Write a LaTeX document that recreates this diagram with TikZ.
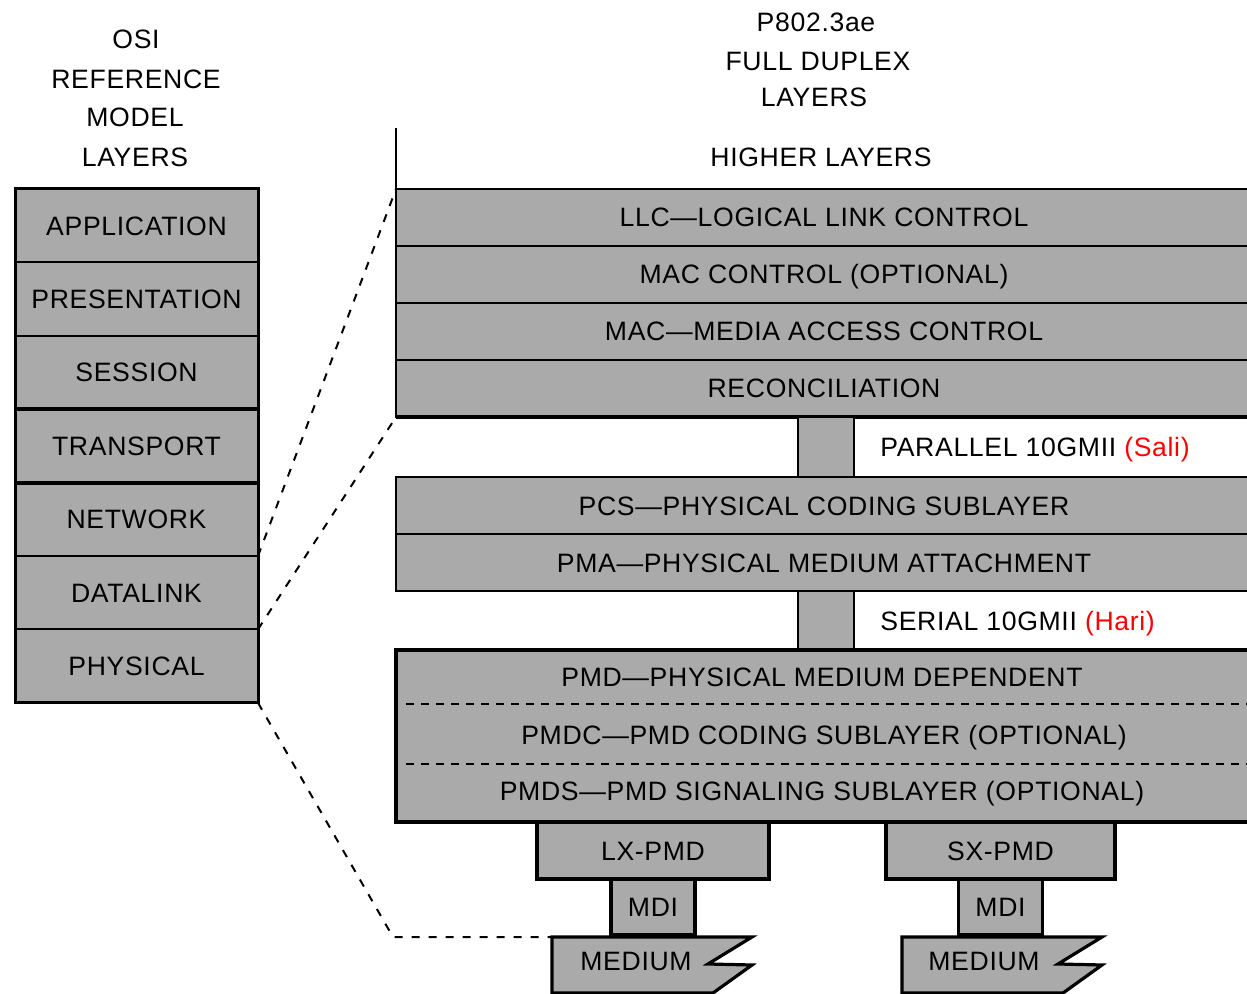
\documentclass[tikz,border=0pt]{standalone}
\usepackage{fontspec}
\setmainfont{Liberation Sans}[LetterSpace=2.5]
\usetikzlibrary{positioning}
\definecolor{layergray}{HTML}{AAAAAA}
\tikzset{
  every picture/.style={line join=miter},
  every node/.append style={text height=9.5pt, text depth=0pt},
  % boxes of the OSI column and of the 802.3ae stack
  layer/.style={draw, fill=layergray, line width=1pt, inner sep=0pt, outer sep=0pt,
    minimum width=121.5pt, minimum height=36.7pt},
  stack/.style={draw, fill=layergray, line width=1pt, inner sep=0pt, outer sep=0pt,
    minimum width=428pt, minimum height=28.5pt},
  link/.style={draw, fill=layergray, line width=1pt, inner sep=0pt, outer sep=0pt,
    minimum width=28pt},
  pmdbox/.style={draw, fill=layergray, line width=1.6pt, inner sep=0pt, outer sep=0pt},
  mediumbox/.style={draw, fill=layergray, line width=1.6pt},
  heavy/.style={line width=2pt},
  zoomline/.style={line width=1pt, dash pattern=on 4pt off 4.5pt},
  subline/.style={line width=1pt, dash pattern=on 4pt off 3.5pt},
  txt/.style={inner sep=0pt},
}
\begin{document}
\begin{tikzpicture}[x=0.5pt, y=-0.5pt, font=\fontsize{13.3}{16}\selectfont]
\useasboundingbox (0,0) rectangle (1247,994);

% headings
\node[txt] (osi1) at (136,39) {OSI};
\node[txt] (osi2) at (136,79) {REFERENCE};
\node[txt] (osi3) at (135,117) {MODEL};
\node[txt] (osi4) at (135,157) {LAYERS};
\node[txt] (ae1) at (816,22) {P802.3ae};
\node[txt] (ae2) at (818,61) {FULL DUPLEX};
\node[txt] (ae3) at (814,97) {LAYERS};

% OSI column
\node[layer] (app) at (136.5,225.7) {APPLICATION};
\node[layer, below=0pt of app] (pres) {PRESENTATION};
\node[layer, below=0pt of pres] (sess) {SESSION};
\node[layer, below=0pt of sess] (trans) {TRANSPORT};
\node[layer, below=0pt of trans] (net) {NETWORK};
\node[layer, below=0pt of net] (dl) {DATALINK};
\node[layer, below=0pt of dl] (phy) {PHYSICAL};
\draw[heavy] (sess.south west) -- (sess.south east);
\draw[heavy] (trans.south west) -- (trans.south east);
\draw[line width=1.5pt] (app.north west) rectangle (phy.south east);

% upper stack
\coordinate (hltop) at (396,128);
\node[txt] (higher) at (821,157) {HIGHER LAYERS};
\node[stack] (llc) at (824,217.5) {LLC—LOGICAL LINK CONTROL};
\node[stack, below=0pt of llc] (macc) {MAC CONTROL (OPTIONAL)};
\node[stack, below=0pt of macc] (mac) {MAC—MEDIA ACCESS CONTROL};
\node[stack, below=0pt of mac] (rec) {RECONCILIATION};
\draw[line width=1pt] (hltop) -- (llc.north west);
\draw[heavy] (rec.south west) -- (rec.south east);

% parallel interface
\node[link, minimum height=30pt, anchor=north] (par) at (826,417) {};
\node[txt, anchor=west] (partxt) at (880,447) {PARALLEL 10GMII \textcolor{red}{(Sali)}};

\node[stack] (pcs) at (824,505.5) {PCS—PHYSICAL CODING SUBLAYER};
\node[stack, below=0pt of pcs] (pma) {PMA—PHYSICAL MEDIUM ATTACHMENT};

% serial interface
\node[link, minimum height=29.5pt, anchor=north] (ser) at (826,591) {};
\node[txt, anchor=west] (sertxt) at (880,621) {SERIAL 10GMII \textcolor{red}{(Hari)}};

% PMD with its optional sublayers
\node[pmdbox, minimum width=428pt, minimum height=86pt] (pmd) at (824,736) {};
\draw[subline] (406,704) -- (1247,704);
\draw[subline] (406,764) -- (1247,764);
\node[txt] (pmdtxt) at (822,677) {PMD—PHYSICAL MEDIUM DEPENDENT};
\node[txt] (pmdc) at (824,735) {PMDC—PMD CODING SUBLAYER (OPTIONAL)};
\node[txt] (pmds) at (822,791) {PMDS—PMD SIGNALING SUBLAYER (OPTIONAL)};

% LX branch
\node[pmdbox, minimum width=116pt, minimum height=28.5pt, anchor=north] (lxpmd) at (653,822) {LX-PMD};
\node[pmdbox, minimum width=42pt, minimum height=28pt, below=0pt of lxpmd] (lxmdi) {MDI};
\draw[mediumbox, shift={(552,937)}] (0,0) -- (200,0) -- (156,27) -- (200,28) -- (161,56) -- (0,56) -- cycle;
\coordinate (lxmedtop) at (552,937);
\node[txt] (lxmed) at (636,961) {MEDIUM};

% SX branch
\node[pmdbox, minimum width=114.5pt, minimum height=28.5pt, anchor=north] (sxpmd) at (1000.5,822) {SX-PMD};
\node[pmdbox, minimum width=42pt, minimum height=28pt, below=0pt of sxpmd] (sxmdi) {MDI};
\draw[mediumbox, shift={(902,937)}] (0,0) -- (200,0) -- (156,27) -- (200,28) -- (161,56) -- (0,56) -- cycle;
\node[txt] (sxmed) at (984,961) {MEDIUM};

% which OSI layers the stack covers
\coordinate (bend) at (393,937);
\draw[zoomline] (net.south east) -- (llc.north west);
\draw[zoomline] (dl.south east) -- (rec.south west);
\draw[zoomline] (phy.south east) -- (bend) -- (lxmedtop);
\end{tikzpicture}
\end{document}
